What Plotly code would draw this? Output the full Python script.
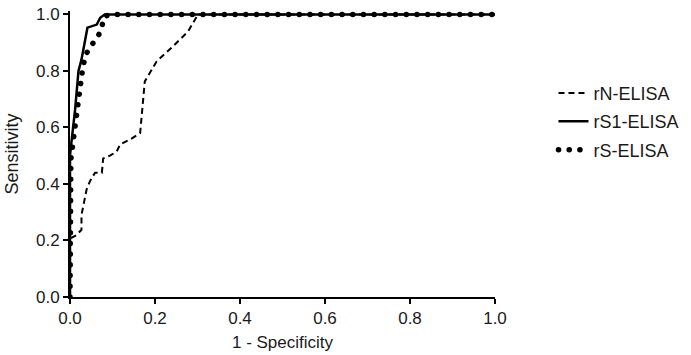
import plotly.graph_objects as go

# Data
rn_x = [0.0, 0.0, 0.004, 0.016, 0.027, 0.027, 0.039, 0.047, 0.059, 0.075, 0.078, 0.094, 0.11, 0.118, 0.141, 0.165, 0.176, 0.204, 0.243, 0.278, 0.301, 1.0]
rn_y = [0.0, 0.21, 0.21, 0.22, 0.238, 0.29, 0.38, 0.41, 0.44, 0.44, 0.49, 0.50, 0.515, 0.54, 0.557, 0.58, 0.763, 0.834, 0.888, 0.94, 1.0, 1.0]

rs1_x = [0.0, 0.0, 0.004, 0.012, 0.02, 0.027, 0.041, 0.063, 0.071, 0.082, 1.0]
rs1_y = [0.0, 0.5, 0.557, 0.663, 0.80, 0.84, 0.953, 0.964, 0.988, 1.0, 1.0]

rs_x = [0.0, 0.0, 0.002, 0.012, 0.02, 0.03, 0.035, 0.043, 0.055, 0.068, 0.075, 0.082, 0.098, 1.0]
rs_y = [0.0, 0.45, 0.486, 0.604, 0.71, 0.81, 0.846, 0.876, 0.90, 0.929, 0.958, 0.994, 1.0, 1.0]

names = ["rN-ELISA", "rS1-ELISA", "rS-ELISA"]
tick_vals = [0.0, 0.2, 0.4, 0.6, 0.8, 1.0]
tick_text = ["0.0", "0.2", "0.4", "0.6", "0.8", "1.0"]

FONT = "Liberation Sans, Arial, sans-serif"
TXT = "#1a1a1a"

fig = go.Figure()
fig.add_trace(go.Scatter(x=rn_x, y=rn_y, mode="lines", name=names[0], legendgroup="a",
                         line=dict(color="black", width=2, dash="6px,4px")))
fig.add_trace(go.Scatter(x=rs1_x, y=rs1_y, mode="lines", name=names[1], legendgroup="b",
                         line=dict(color="black", width=2.5)))
fig.add_trace(go.Scatter(x=rs_x, y=rs_y, mode="lines", name=names[2], legendgroup="c",
                         line=dict(color="black", width=5.5, dash="0.1px,10.6px")))

axis_common = dict(
    showgrid=False, zeroline=False, showline=True, linecolor="black", linewidth=2,
    ticks="outside", ticklen=5, tickwidth=2, tickcolor="black",
    tickvals=tick_vals, ticktext=tick_text, automargin=False,
    tickfont=dict(family=FONT, size=17, color=TXT),
)

fig.update_layout(
    width=691, height=355,
    margin=dict(l=70, r=196, t=11, b=58, autoexpand=False),
    paper_bgcolor="white", plot_bgcolor="white",
    font=dict(family=FONT, size=17, color=TXT),
    xaxis=dict(range=[0, 1.0], title=dict(text="1 - Specificity", standoff=9,
               font=dict(family=FONT, size=17, color=TXT)), **axis_common),
    yaxis=dict(range=[0, 1.012], title=dict(text="Sensitivity", standoff=13,
               font=dict(family=FONT, size=18, color=TXT)), **axis_common),
    legend=dict(x=1.1376, xanchor="left", y=0.613, yanchor="middle",
                font=dict(family=FONT, size=18, color=TXT),
                traceorder="grouped", tracegroupgap=2, itemwidth=30,
                bgcolor="rgba(0,0,0,0)"),
    showlegend=True,
)

post = """
document.body.style.margin = '0';
var tr = document.querySelectorAll('.scatterlayer .trace');
if (tr.length > 2) { tr[2].querySelectorAll('path.js-line').forEach(function(p){p.style.strokeLinecap='round';}); }
var lg = document.querySelectorAll('.legend .traces');
if (lg.length > 2) { lg[2].querySelectorAll('path').forEach(function(p){p.style.strokeLinecap='round';}); }
"""
fig.write_html("out.html", post_script=post, config={"displayModeBar": False})
